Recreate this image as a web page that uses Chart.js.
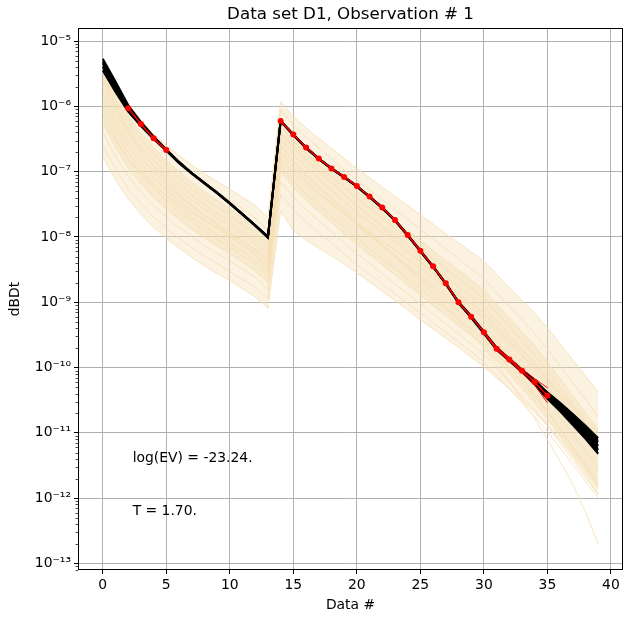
<!DOCTYPE html>
<html>
<head>
<meta charset="utf-8">
<script src="https://cdn.jsdelivr.net/npm/chart.js@4/dist/chart.umd.min.js"></script>
<style>
  html, body { margin: 0; padding: 0; background: #fff; }
  #wrap { width: 631px; height: 623px; position: relative; }
</style>
</head>
<body>
<div id="wrap"><canvas id="chart"></canvas></div>
<script>
// data gate index
const dataIdx = [0,1,2,3,4,5,6,7,8,9,10,11,12,13,14,15,16,17,18,19,20,21,22,23,24,25,26,27,28,29,30,31,32,33,34,35,36,37,38,39];
const xTicks = [0, 5, 10, 15, 20, 25, 30, 35, 40];
const yTickExp = [-13, -12, -11, -10, -9, -8, -7, -6, -5];

// all curve values are log10(dBDt)
// observed data (null = not used)
const obsLog = [null,null,-6.03,-6.27,-6.49,-6.67,null,null,null,null,null,null,null,null,
  -6.225,-6.43,-6.63,-6.80,-6.95,-7.08,-7.22,-7.38,-7.55,-7.74,-7.97,-8.21,-8.45,-8.71,-9.00,-9.22,-9.46,-9.71,-9.875,-10.05,-10.22,-10.43,null,null,null,null];
// data +/- std where it shows
const errIdx = [30, 31, 32, 33, 34, 35];
const errHiLog = [-9.45, -9.69, -9.85, -10.02, -10.17, -10.31];
const errLoLog = [-9.47, -9.73, -9.90, -10.08, -10.27, -10.54];

// posterior realisations (black)
const postA = [-5.27,-5.62,-5.98,-6.24,-6.46,-6.66,-6.85,-7.02,-7.17,-7.32,-7.48,-7.65,-7.82,-7.99,-6.22,-6.43,-6.63,-6.80,-6.95,-7.08,-7.22,-7.38,-7.55,-7.74,-7.97,-8.21,-8.45,-8.71,-8.99,-9.21,-9.45,-9.69,-9.86,-10.03,-10.19,-10.38,-10.54,-10.71,-10.89,-11.08];
const postB = [-5.31,-5.66,-6.00,-6.25,-6.47,-6.66,-6.85,-7.02,-7.17,-7.32,-7.48,-7.65,-7.82,-8.00,-6.22,-6.43,-6.63,-6.80,-6.95,-7.08,-7.22,-7.38,-7.55,-7.74,-7.97,-8.21,-8.45,-8.71,-9.00,-9.22,-9.46,-9.70,-9.87,-10.04,-10.21,-10.41,-10.57,-10.75,-10.94,-11.14];
const postC = [-5.34,-5.69,-6.03,-6.27,-6.48,-6.67,-6.86,-7.02,-7.17,-7.32,-7.48,-7.65,-7.82,-8.00,-6.225,-6.43,-6.63,-6.80,-6.95,-7.08,-7.22,-7.38,-7.55,-7.74,-7.97,-8.21,-8.45,-8.71,-9.00,-9.22,-9.46,-9.71,-9.88,-10.05,-10.22,-10.43,-10.60,-10.79,-10.98,-11.20];
const postD = [-5.39,-5.73,-6.05,-6.28,-6.49,-6.67,-6.86,-7.02,-7.18,-7.33,-7.49,-7.66,-7.83,-8.01,-6.23,-6.44,-6.63,-6.80,-6.95,-7.09,-7.23,-7.39,-7.56,-7.75,-7.98,-8.22,-8.46,-8.72,-9.01,-9.23,-9.47,-9.72,-9.89,-10.06,-10.24,-10.45,-10.63,-10.83,-11.03,-11.26];
const postE = [-5.45,-5.78,-6.08,-6.30,-6.50,-6.68,-6.87,-7.03,-7.18,-7.33,-7.49,-7.66,-7.83,-8.01,-6.23,-6.44,-6.64,-6.81,-6.96,-7.09,-7.23,-7.39,-7.56,-7.75,-7.98,-8.22,-8.46,-8.72,-9.01,-9.24,-9.48,-9.73,-9.90,-10.07,-10.26,-10.48,-10.67,-10.88,-11.09,-11.32];

// prior realisations (wheat)
const prior01 = [-5.30,-5.66,-5.97,-6.21,-6.42,-6.60,-6.75,-6.90,-7.03,-7.15,-7.27,-7.39,-7.52,-7.70,-5.93,-6.15,-6.33,-6.49,-6.64,-6.80,-6.95,-7.09,-7.24,-7.38,-7.52,-7.66,-7.80,-7.95,-8.09,-8.23,-8.37,-8.57,-8.77,-8.97,-9.17,-9.39,-9.64,-9.88,-10.13,-10.37];
const prior02 = [-5.32,-5.71,-6.04,-6.30,-6.52,-6.71,-6.88,-7.04,-7.18,-7.31,-7.44,-7.57,-7.71,-7.90,-6.05,-6.29,-6.47,-6.64,-6.80,-6.97,-7.13,-7.28,-7.43,-7.58,-7.73,-7.88,-8.03,-8.18,-8.33,-8.49,-8.64,-8.85,-9.06,-9.27,-9.48,-9.72,-9.98,-10.23,-10.49,-10.75];
const prior03 = [-5.40,-5.80,-6.14,-6.41,-6.63,-6.83,-7.00,-7.16,-7.31,-7.44,-7.57,-7.71,-7.85,-8.05,-6.20,-6.44,-6.63,-6.79,-6.96,-7.13,-7.29,-7.45,-7.60,-7.75,-7.90,-8.05,-8.21,-8.36,-8.51,-8.66,-8.81,-9.03,-9.24,-9.45,-9.67,-9.91,-10.17,-10.43,-10.69,-10.95];
const prior04 = [-5.50,-5.90,-6.24,-6.51,-6.73,-6.93,-7.10,-7.26,-7.41,-7.54,-7.67,-7.81,-7.95,-8.15,-6.30,-6.54,-6.73,-6.90,-7.07,-7.24,-7.40,-7.56,-7.71,-7.87,-8.02,-8.17,-8.33,-8.48,-8.63,-8.79,-8.94,-9.16,-9.37,-9.59,-9.80,-10.04,-10.31,-10.57,-10.84,-11.10];
const prior05 = [-5.60,-6.00,-6.34,-6.61,-6.83,-7.03,-7.20,-7.36,-7.51,-7.64,-7.77,-7.91,-8.05,-8.25,-6.40,-6.64,-6.84,-7.01,-7.18,-7.35,-7.52,-7.67,-7.83,-7.98,-8.14,-8.29,-8.45,-8.60,-8.76,-8.91,-9.07,-9.29,-9.50,-9.72,-9.94,-10.18,-10.45,-10.72,-10.98,-11.25];
const prior06 = [-5.70,-6.09,-6.43,-6.69,-6.91,-7.10,-7.27,-7.43,-7.57,-7.70,-7.83,-7.96,-8.11,-8.30,-6.50,-6.74,-6.94,-7.11,-7.28,-7.45,-7.62,-7.77,-7.93,-8.08,-8.24,-8.39,-8.55,-8.70,-8.86,-9.01,-9.17,-9.39,-9.60,-9.82,-10.04,-10.28,-10.55,-10.82,-11.08,-11.35];
const prior07 = [-5.80,-6.19,-6.53,-6.79,-7.01,-7.20,-7.37,-7.53,-7.67,-7.80,-7.93,-8.06,-8.21,-8.40,-6.60,-6.86,-7.07,-7.25,-7.43,-7.61,-7.80,-7.96,-8.13,-8.30,-8.46,-8.63,-8.79,-8.96,-9.13,-9.29,-9.46,-9.69,-9.93,-10.16,-10.40,-10.66,-10.94,-11.23,-11.51,-11.80];
const prior08 = [-5.90,-6.28,-6.61,-6.87,-7.09,-7.28,-7.44,-7.60,-7.74,-7.86,-7.99,-8.12,-8.26,-8.45,-6.70,-6.94,-7.14,-7.31,-7.48,-7.65,-7.82,-7.97,-8.13,-8.28,-8.44,-8.59,-8.75,-8.90,-9.06,-9.21,-9.37,-9.59,-9.80,-10.02,-10.24,-10.48,-10.75,-11.02,-11.28,-11.55];
const prior09 = [-6.00,-6.38,-6.71,-6.97,-7.19,-7.38,-7.54,-7.70,-7.84,-7.96,-8.09,-8.22,-8.36,-8.55,-6.80,-7.02,-7.19,-7.34,-7.49,-7.64,-7.79,-7.93,-8.06,-8.20,-8.34,-8.48,-8.62,-8.75,-8.89,-9.03,-9.17,-9.36,-9.55,-9.75,-9.94,-10.15,-10.39,-10.63,-10.86,-11.10];
const prior10 = [-6.10,-6.48,-6.80,-7.05,-7.26,-7.45,-7.61,-7.76,-7.90,-8.03,-8.15,-8.28,-8.41,-8.60,-6.90,-7.14,-7.34,-7.51,-7.68,-7.85,-8.02,-8.17,-8.33,-8.48,-8.64,-8.79,-8.95,-9.10,-9.26,-9.41,-9.57,-9.79,-10.00,-10.22,-10.44,-10.68,-10.95,-11.22,-11.48,-11.75];
const prior11 = [-6.25,-6.62,-6.94,-7.18,-7.39,-7.57,-7.73,-7.88,-8.01,-8.14,-8.26,-8.38,-8.52,-8.70,-7.00,-7.24,-7.44,-7.61,-7.78,-7.95,-8.12,-8.27,-8.43,-8.58,-8.74,-8.89,-9.05,-9.20,-9.36,-9.51,-9.67,-9.89,-10.10,-10.32,-10.54,-10.78,-11.05,-11.32,-11.58,-11.85];
const prior12 = [-6.40,-6.76,-7.07,-7.31,-7.52,-7.70,-7.85,-8.00,-8.13,-8.25,-8.37,-8.49,-8.62,-8.80,-7.15,-7.39,-7.58,-7.75,-7.92,-8.09,-8.25,-8.41,-8.56,-8.72,-8.87,-9.02,-9.18,-9.33,-9.48,-9.64,-9.79,-10.01,-10.22,-10.44,-10.65,-10.89,-11.16,-11.42,-11.69,-11.95];
const prior13 = [-6.60,-6.95,-7.26,-7.49,-7.69,-7.87,-8.02,-8.16,-8.29,-8.41,-8.53,-8.65,-8.77,-8.95,-7.35,-7.58,-7.77,-7.93,-8.09,-8.26,-8.42,-8.57,-8.72,-8.87,-9.02,-9.16,-9.31,-9.46,-9.61,-9.76,-9.91,-10.12,-10.33,-10.54,-10.75,-10.98,-11.23,-11.49,-11.74,-12.00];
const prior14 = [-6.77,-7.12,-7.42,-7.65,-7.85,-8.02,-8.17,-8.31,-8.44,-8.56,-8.67,-8.79,-8.92,-9.09,-7.60,-7.90,-8.05,-8.17,-8.29,-8.41,-8.55,-8.69,-8.83,-8.97,-9.12,-9.27,-9.41,-9.55,-9.69,-9.84,-9.99,-10.16,-10.33,-10.51,-10.69,-10.89,-11.12,-11.37,-11.65,-11.95];
const prior15 = [-5.55,-5.99,-6.38,-6.67,-6.92,-7.14,-7.34,-7.51,-7.67,-7.82,-7.97,-8.12,-8.28,-8.50,-6.60,-6.84,-7.04,-7.22,-7.40,-7.58,-7.76,-7.94,-8.12,-8.30,-8.49,-8.68,-8.87,-9.07,-9.27,-9.48,-9.70,-9.95,-10.21,-10.49,-10.78,-11.10,-11.44,-11.79,-12.21,-12.70];
const prior16 = [-6.20,-6.52,-6.80,-7.02,-7.20,-7.36,-7.50,-7.63,-7.75,-7.86,-7.96,-8.07,-8.19,-8.35,-6.40,-6.60,-6.79,-6.97,-7.15,-7.33,-7.51,-7.68,-7.86,-8.03,-8.21,-8.38,-8.56,-8.73,-8.91,-9.08,-9.26,-9.44,-9.62,-9.81,-10.00,-10.19,-10.39,-10.59,-10.79,-11.00];

const priors = [prior01, prior02, prior03, prior04, prior05, prior06, prior07, prior08,
  prior09, prior10, prior11, prior12, prior13, prior14, prior15, prior16];
const posts = [postA, postB, postC, postD, postE];

const titleText = "Data set D1, Observation # 1";
const evText = "log(EV) = -23.24.";
const tText = "T = 1.70.";

const FONT = '"DejaVu Sans", sans-serif';
const WHEAT_LINE = 'rgba(245, 222, 179, 0.8)';
const WHEAT_FILL = 'rgba(245, 222, 179, 0.4)';

function toPoints(logs, idx) {
    idx = idx || dataIdx;
    return logs.map((v, i) => ({ x: idx[i], y: v === null ? null : Math.pow(10, v) }));
}

const SUP = { '-': '\u207B', '0': '\u2070', '1': '\u00B9', '2': '\u00B2', '3': '\u00B3', '4': '\u2074',
    '5': '\u2075', '6': '\u2076', '7': '\u2077', '8': '\u2078', '9': '\u2079' };
function sup(n) { return String(n).split('').map(c => SUP[c]).join(''); }

const datasets = [];
// band fills behind the prior lines (datasets 0-3)
datasets.push({ data: toPoints(prior01), fill: 1, backgroundColor: WHEAT_FILL, borderWidth: 0, pointRadius: 0, order: 6 });
datasets.push({ data: toPoints(prior14), fill: false, borderWidth: 0, pointRadius: 0, order: 6 });
datasets.push({ data: toPoints(prior03), fill: 3, backgroundColor: WHEAT_FILL, borderWidth: 0, pointRadius: 0, order: 6 });
datasets.push({ data: toPoints(prior11), fill: false, borderWidth: 0, pointRadius: 0, order: 6 });

priors.forEach(p => datasets.push({
    data: toPoints(p), borderColor: WHEAT_LINE, borderWidth: 1, pointRadius: 0, fill: false, order: 4
}));
// posterior bundle: first one fills down to the last one
const postStart = datasets.length;
posts.forEach((p, i) => datasets.push({
    data: toPoints(p), borderColor: '#000', borderWidth: 2, pointRadius: 0,
    fill: i === 0 ? postStart + posts.length - 1 : false, backgroundColor: '#000', order: 2
}));
datasets.push({ data: toPoints(errHiLog, errIdx), borderColor: '#ff0000', borderWidth: 1, pointRadius: 0, fill: false, order: 1 });
datasets.push({ data: toPoints(errLoLog, errIdx), borderColor: '#ff0000', borderWidth: 1, pointRadius: 0, fill: false, order: 1 });
datasets.push({
    data: toPoints(obsLog), borderColor: '#ff0000', backgroundColor: '#ff0000', borderWidth: 1.5,
    pointRadius: 3, pointBorderWidth: 0, fill: false, spanGaps: false, order: 0
});

// frame, minor ticks and all free text
const decor = {
    id: 'decor',
    afterDraw(chart) {
        const { ctx, chartArea: a, scales } = chart;
        const x = scales.x, y = scales.y;
        ctx.save();
        ctx.strokeStyle = '#000';
        ctx.lineWidth = 1;
        ctx.strokeRect(a.left + 0.5, a.top + 0.5, a.right - a.left - 1, a.bottom - a.top - 1);

        // log minor ticks on the left spine
        ctx.lineWidth = 0.7;
        for (let e = -14; e <= -5; e++) {
            for (let m = 2; m <= 9; m++) {
                const v = m * Math.pow(10, e);
                if (v <= y.min || v >= y.max) continue;
                const py = Math.round(y.getPixelForValue(v)) + 0.5;
                ctx.beginPath();
                ctx.moveTo(a.left - 2.5, py);
                ctx.lineTo(a.left, py);
                ctx.stroke();
            }
        }

        ctx.fillStyle = '#000';
        ctx.font = '16.7px ' + FONT;
        ctx.textAlign = 'center';
        ctx.textBaseline = 'alphabetic';
        ctx.fillText(titleText, (a.left + a.right) / 2, 19);

        ctx.font = '13.9px ' + FONT;
        ctx.textBaseline = 'middle';
        ctx.fillText('Data #', (a.left + a.right) / 2, 605);

        ctx.save();
        ctx.translate(15, (a.top + a.bottom) / 2);
        ctx.rotate(-Math.PI / 2);
        ctx.fillText('dBDt', 0, 0);
        ctx.restore();

        ctx.textAlign = 'left';
        ctx.fillText(evText, x.getPixelForValue(2.35), y.getPixelForValue(Math.pow(10, -11.39)));
        ctx.fillText(tText, x.getPixelForValue(2.35), y.getPixelForValue(Math.pow(10, -12.21)));
        ctx.restore();
    }
};

new Chart(document.getElementById('chart'), {
    type: 'line',
    data: { datasets },
    options: {
        responsive: true,
        maintainAspectRatio: false,
        animation: false,
        layout: { padding: { top: 28, right: 8, left: 0, bottom: 0 } },
        plugins: { legend: { display: false }, tooltip: { enabled: false }, title: { display: false } },
        elements: { line: { tension: 0 } },
        scales: {
            x: {
                type: 'linear',
                min: -1.95,
                max: 40.95,
                afterBuildTicks: s => { s.ticks = xTicks.map(v => ({ value: v })); },
                afterFit: s => { s.height = 53; },
                ticks: { autoSkip: false, maxRotation: 0, padding: 3, color: '#000', font: { family: FONT, size: 13.9 } },
                grid: { color: '#b0b0b0', lineWidth: 1, tickColor: '#000', tickLength: 4, tickWidth: 1 },
                border: { display: false }
            },
            y: {
                type: 'logarithmic',
                min: Math.pow(10, -13.10),
                max: Math.pow(10, -4.80),
                afterBuildTicks: s => { s.ticks = yTickExp.map(e => ({ value: Math.pow(10, e) })); },
                afterFit: s => { s.width = 78; },
                ticks: {
                    autoSkip: false, padding: 3, color: '#000', font: { family: FONT, size: 13.9 },
                    callback: v => '10' + sup(Math.round(Math.log10(v)))
                },
                grid: { color: '#b0b0b0', lineWidth: 1, tickColor: '#000', tickLength: 4, tickWidth: 1 },
                border: { display: false }
            }
        }
    },
    plugins: [decor]
});
</script>
</body>
</html>
